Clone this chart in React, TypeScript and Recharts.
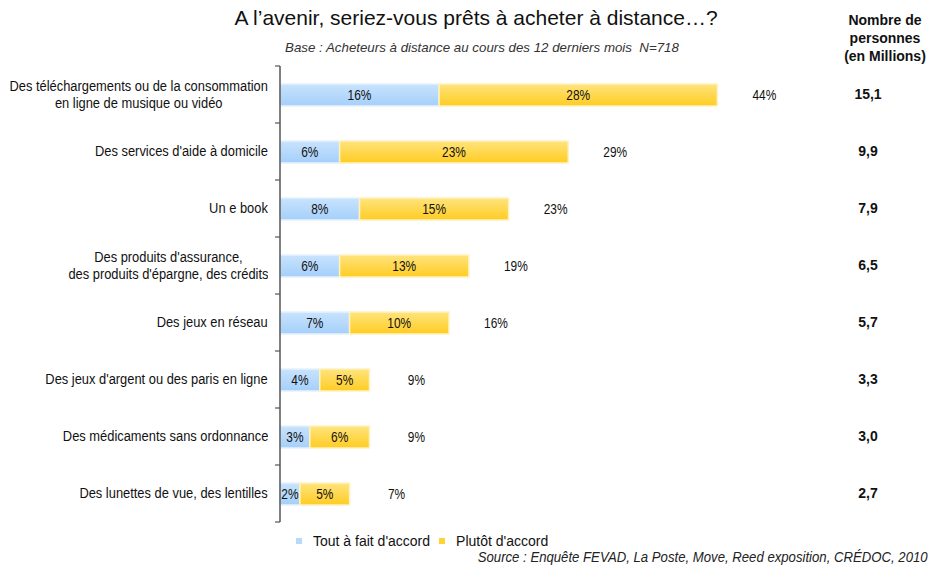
import React from "react";
import { BarChart, Bar, XAxis, YAxis, LabelList } from "recharts";

const categories = [
  "Des téléchargements ou de la consommation\nen ligne de musique ou vidéo",
  "Des services d'aide à domicile",
  "Un e book",
  "Des produits d'assurance,\ndes produits d'épargne, des crédits",
  "Des jeux en réseau",
  "Des jeux d'argent ou des paris en ligne",
  "Des médicaments sans ordonnance",
  "Des lunettes de vue, des lentilles",
];
const toutAFait = [16, 6, 8, 6, 7, 4, 3, 2];
const plutot = [28, 23, 15, 13, 10, 5, 6, 5];
const totals = [44, 29, 23, 19, 16, 9, 9, 7];
const millions = ["15,1", "9,9", "7,9", "6,5", "5,7", "3,3", "3,0", "2,7"];

const data = categories.map((name, i) => ({
  name,
  tout: toutAFait[i],
  plutot: plutot[i],
  total: totals[i],
  millions: millions[i],
}));

const ARIAL = "'Liberation Sans', Arial, sans-serif";
const BAND = 57;

// no narrow font installed: squeeze Liberation Sans horizontally
const NarrowText = ({ x, y, children, anchor = "middle", size = 14, sx = 0.86, bold = false }: any) => (
  <text
    transform={`translate(${x},${y}) scale(${sx},1)`}
    dy="0.35em"
    textAnchor={anchor}
    fontFamily={ARIAL}
    fontSize={size}
    fontWeight={bold ? "bold" : "normal"}
    fill="#111"
  >
    {children}
  </text>
);

const CategoryTick = ({ y, payload, index }: any) => (
  <g>
    <foreignObject x={0} y={y - 26} width={268} height={52}>
      <div style={{ height: 52, display: "flex", alignItems: "center", justifyContent: "flex-end" }}>
        <div
          style={{
            textAlign: "center",
            whiteSpace: "pre",
            fontFamily: ARIAL,
            fontSize: 14,
            lineHeight: "17px",
            color: "#111",
            transform: "scaleX(0.92)",
            transformOrigin: "right center",
          }}
        >
          {payload.value}
        </div>
      </div>
    </foreignObject>
    {index === 0 && <line x1={275} x2={280} y1={y - BAND / 2} y2={y - BAND / 2} stroke="#555" strokeWidth={1.2} />}
    <line x1={275} x2={280} y1={y + BAND / 2} y2={y + BAND / 2} stroke="#555" strokeWidth={1.2} />
  </g>
);

const MillionsTick = ({ y, payload }: any) => (
  <text x={868} y={y} dy="0.35em" textAnchor="middle" fontFamily={ARIAL} fontWeight="bold" fontSize={14} fill="#111">
    {payload.value}
  </text>
);

const SegmentLabel = ({ x, y, width, height, value }: any) => (
  <NarrowText x={x + width / 2} y={y + height / 2} size={14} sx={0.85}>
    {value}%
  </NarrowText>
);

const TotalLabel = ({ x, y, width, height, index }: any) => (
  <NarrowText x={x + width + 47} y={y + height / 2} size={14} sx={0.85}>
    {totals[index]}%
  </NarrowText>
);

export default function App() {
  return (
    <div style={{ position: "absolute", left: 0, top: 0, width: 932, height: 565, background: "#fff", overflow: "hidden" }}>
      <BarChart
        width={932}
        height={565}
        data={data}
        layout="vertical"
        barSize={22}
        margin={{ top: 66, right: 0, bottom: 43, left: 0 }}
      >
        <defs>
          <linearGradient id="blueGrad" x1="0" y1="0" x2="0" y2="1">
            <stop offset="0%" stopColor="#c8e3fd" />
            <stop offset="100%" stopColor="#a5cffa" />
          </linearGradient>
          <linearGradient id="yellowGrad" x1="0" y1="0" x2="0" y2="1">
            <stop offset="0%" stopColor="#ffe47e" />
            <stop offset="100%" stopColor="#ffcc22" />
          </linearGradient>
        </defs>
        <XAxis type="number" domain={[0, 50]} hide />
        <YAxis
          yAxisId={0}
          type="category"
          dataKey="name"
          width={280}
          tick={<CategoryTick />}
          tickLine={false}
          axisLine={{ stroke: "#555", strokeWidth: 1.5 }}
          interval={0}
        />
        <YAxis
          yAxisId={1}
          type="category"
          dataKey="millions"
          orientation="right"
          width={155}
          tick={<MillionsTick />}
          tickLine={false}
          axisLine={false}
          interval={0}
        />
        <Bar dataKey="tout" stackId="a" yAxisId={0} fill="url(#blueGrad)" stroke="#e6f2fe" strokeWidth={1.5} isAnimationActive={false}>
          <LabelList dataKey="tout" content={<SegmentLabel />} />
        </Bar>
        <Bar dataKey="plutot" stackId="a" yAxisId={0} fill="url(#yellowGrad)" stroke="#fff2c0" strokeWidth={1.5} isAnimationActive={false}>
          <LabelList dataKey="plutot" content={<SegmentLabel />} />
          <LabelList dataKey="total" content={<TotalLabel />} />
        </Bar>
      </BarChart>

      <div style={{ position: "absolute", left: 0, width: 952, top: 6, textAlign: "center", fontFamily: ARIAL, fontSize: 21, color: "#111", whiteSpace: "nowrap" }}>
        A l’avenir, seriez-vous prêts à acheter à distance…?
      </div>
      <div style={{ position: "absolute", left: 0, width: 964, top: 40, textAlign: "center", fontFamily: ARIAL, fontStyle: "italic", fontSize: 13.3, color: "#333", whiteSpace: "pre" }}>
        {"Base : Acheteurs à distance au cours des 12 derniers mois  N=718"}
      </div>
      <div style={{ position: "absolute", left: 835, width: 100, top: 11, textAlign: "center", fontFamily: ARIAL, fontWeight: "bold", fontSize: 14, lineHeight: "18px", color: "#111" }}>
        Nombre de
        <br />
        personnes
        <br />
        (en Millions)
      </div>

      <div
        style={{
          position: "absolute",
          left: 296,
          top: 534,
          display: "flex",
          alignItems: "center",
          fontFamily: ARIAL,
          fontSize: 14,
          lineHeight: "14px",
          color: "#111",
          whiteSpace: "nowrap",
        }}
      >
        <span style={{ display: "inline-block", width: 6, height: 6, background: "#b7dafc", marginRight: 11 }} />
        <span style={{ marginRight: 9 }}>Tout à fait d'accord</span>
        <span style={{ display: "inline-block", width: 6, height: 6, background: "#ffd23a", marginRight: 11 }} />
        <span>Plutôt d'accord</span>
      </div>
      <div
        style={{
          position: "absolute",
          right: 4,
          top: 550,
          fontFamily: ARIAL,
          fontStyle: "italic",
          fontSize: 14,
          lineHeight: "14px",
          color: "#222",
          whiteSpace: "nowrap",
          transform: "scaleX(0.94)",
          transformOrigin: "right center",
        }}
      >
        Source : Enquête FEVAD, La Poste, Move, Reed exposition, CRÉDOC, 2010
      </div>
    </div>
  );
}
